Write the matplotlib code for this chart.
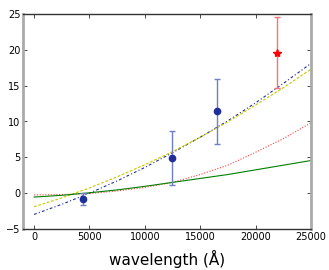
import numpy as np
import matplotlib
matplotlib.use("Agg")
import matplotlib.pyplot as plt

# observed points (wavelength in Angstrom)
obs_wl = [4400, 12480, 16490]
obs_val = [-0.84, 4.93, 11.4]
obs_lo = [0.83, 3.83, 4.6]
obs_hi = [0.84, 3.81, 4.6]

star_wl = [21960]
star_val = [19.6]
star_lo = [4.9]
star_hi = [5.0]

# model curves
curve_wl = [0, 2500, 5000, 7500, 10000, 12500, 15000, 17500, 20000, 22500, 25000]
blue_curve = [-2.97, -1.56, 0.0, 1.71, 3.59, 5.64, 7.8, 10.1, 12.6, 15.3, 18.1]
yellow_curve = [-1.9, -0.66, 0.73, 2.28, 3.97, 5.8, 7.8, 9.95, 12.3, 14.7, 17.3]
red_curve = [-0.25, -0.2, -0.05, 0.3, 0.8, 1.5, 2.6, 3.9, 5.7, 7.6, 9.8]
green_curve = [-0.55, -0.3, 0.05, 0.45, 0.95, 1.5, 2.05, 2.6, 3.25, 3.9, 4.55]

dpi = 100
fig = plt.figure(figsize=(329/dpi, 270/dpi), dpi=dpi)
ax = fig.add_axes([0.070, 0.152, 0.875, 0.796])

ax.plot(curve_wl, blue_curve, c='#1f2f9a', ls=(0, (2.5, 2, 1, 2)), lw=0.8)
ax.plot(curve_wl, yellow_curve, c='#c8c800', ls=(0, (2.5, 1.5)), lw=0.8)
ax.plot(curve_wl, red_curve, c='#ff4040', ls=(0, (1, 1.5)), lw=0.8)
ax.plot(curve_wl, green_curve, c='#008000', ls='-', lw=0.8)

ax.errorbar(obs_wl, obs_val, yerr=[obs_lo, obs_hi], fmt='o', c='#1f2f9a',
            ms=4.5, ecolor='#7080c8', elinewidth=1, capsize=2.5)
ax.errorbar(star_wl, star_val, yerr=[star_lo, star_hi], fmt='*', c='#ff0000',
            ms=6, ecolor='#ff7070', elinewidth=1, capsize=2.5)

ax.set_xlim(-1000, 25000)
ax.set_ylim(-5, 25)
ax.set_xticks([0, 5000, 10000, 15000, 20000, 25000])
ax.set_yticks([-5, 0, 5, 10, 15, 20, 25])
ax.tick_params(direction='in', top=True, right=True, labelsize=7, length=3,
               width=0.5, pad=2)
for s in ['left', 'right']:
    ax.spines[s].set_color('#aaaaaa')
    ax.spines[s].set_linewidth(2)
for s in ['top', 'bottom']:
    ax.spines[s].set_color('#333333')
    ax.spines[s].set_linewidth(1)
ax.set_xlabel('wavelength (\u00c5)', fontsize=11, labelpad=6)

fig.savefig('out.png', dpi=dpi)
